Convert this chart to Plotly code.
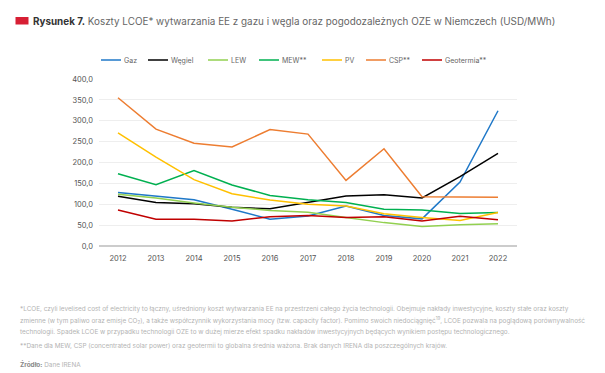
import plotly.graph_objects as go

years = ["2012", "2013", "2014", "2015", "2016", "2017", "2018", "2019", "2020", "2021", "2022"]
gaz = [128, 120, 111, 88, 64, 72, 96, 73, 65, 153, 324]
wegiel = [119, 104, 101, 93, 89, 105, 120, 123, 115, 166, 222]
lew = [124, 115, 103, 93, 85, 81, 68, 56, 47, 51, 53]
mew = [173, 147, 181, 146, 121, 111, 104, 88, 86, 78, 80]
pv = [271, 213, 159, 125, 110, 100, 96, 77, 68, 61, 80]
csp = [355, 280, 246, 237, 279, 268, 157, 233, 118, 118, 117]
geo = [86, 64, 64, 60, 70, 73, 68, 70, 60, 71, 63]

names = ["Gaz", "Węgiel", "LEW", "MEW**", "PV", "CSP**", "Geotermia**"]
series = [gaz, wegiel, lew, mew, pv, csp, geo]
colors = ["#1f78c8", "#000000", "#92d050", "#00b050", "#ffc000", "#ed7d31", "#c00000"]

W, H = 605, 373
L, R, T, B = 91, 96, 71, 135
pw, ph = W - L - R, H - T - B

def px(x):
    return (x - L) / pw

def py(y):
    return (H - B - y) / ph

fig = go.Figure()
for n, s, c in zip(names, series, colors):
    fig.add_trace(go.Scatter(x=years, y=s, name=n, mode="lines",
                             line=dict(color=c, width=1.5), showlegend=False))

shapes = []
annotations = []
# custom legend
leg_x = [93, 140, 200, 251, 314, 358, 414]
for n, c, lx in zip(names, colors, leg_x):
    shapes.append(dict(type="line", xref="paper", yref="paper", x0=px(lx), x1=px(lx + 20),
                       y0=py(52), y1=py(52), line=dict(color=c, width=1.5)))
    annotations.append(dict(text=n, xref="paper", yref="paper", x=px(lx + 20.5), y=py(52),
                            xanchor="left", yanchor="middle", showarrow=False,
                            font=dict(size=7, color="#666", family="Inter")))

# title
shapes.append(dict(type="rect", xref="paper", yref="paper", x0=px(7.5), x1=px(20.5),
                   y0=py(16.5), y1=py(9), fillcolor="#d71f34", line=dict(width=0)))
annotations.append(dict(text="<b>Rysunek 7.</b><span style='color:#666'> Koszty LCOE* wytwarzania EE z gazu i węgla oraz pogodozależnych OZE w Niemczech (USD/MWh)</span>",
                        xref="paper", yref="paper", x=px(23), y=py(13), xanchor="left", yanchor="middle",
                        showarrow=False, font=dict(size=9.9, color="#333", family="Inter")))

notes = [
    (301, "*LCOE, czyli levelised cost of electricity to łączny, uśredniony koszt wytwarzania EE na przestrzeni całego życia technologii. Obejmuje nakłady inwestycyjne, koszty stałe oraz koszty"),
    (312, "zmienne (w tym paliwo oraz emisje CO<sub>2</sub>), a także współczynnik wykorzystania mocy (tzw. capacity factor). Pomimo swoich niedociągnięć<sup>19</sup>, LCOE pozwala na poglądową porównywalność"),
    (323.5, "technologii. Spadek LCOE w przypadku technologii OZE to w dużej mierze efekt spadku nakładów inwestycyjnych będących wynikiem postępu technologicznego."),
    (337.5, "**Dane dla MEW, CSP (concentrated solar power) oraz geotermii to globalna średnia ważona. Brak danych IRENA dla poszczególnych krajów."),
    (356, "<span style='color:#888'><b>Źródło:</b></span> Dane IRENA"),
]
for y, t in notes:
    annotations.append(dict(text=t, xref="paper", yref="paper", x=px(10), y=py(y),
                            xanchor="left", yanchor="middle", showarrow=False,
                            font=dict(size=6.4, color="#b3b3b3", family="Inter")))

fig.update_layout(
    width=W, height=H,
    margin=dict(l=L, r=R, t=T, b=B, pad=0),
    paper_bgcolor="white", plot_bgcolor="white",
    separators=",.",
    shapes=shapes, annotations=annotations,
    font=dict(family="Inter", size=7.5, color="#555"),
    xaxis=dict(type="category", range=[-0.5, 10.5], showgrid=False, showline=False,
               zeroline=False, ticks="", tickfont=dict(size=7.5, color="#555"), ticklabelstandoff=6),
    yaxis=dict(range=[0, 400], dtick=50, tickformat=".1f", showgrid=True, gridcolor="#eeeeee",
               gridwidth=1, zeroline=True, zerolinecolor="#cccccc", zerolinewidth=1.5,
               showline=False, ticks="", tickfont=dict(size=7.5, color="#555"), ticklabelstandoff=5),
)

fig.write_html("out.html")
